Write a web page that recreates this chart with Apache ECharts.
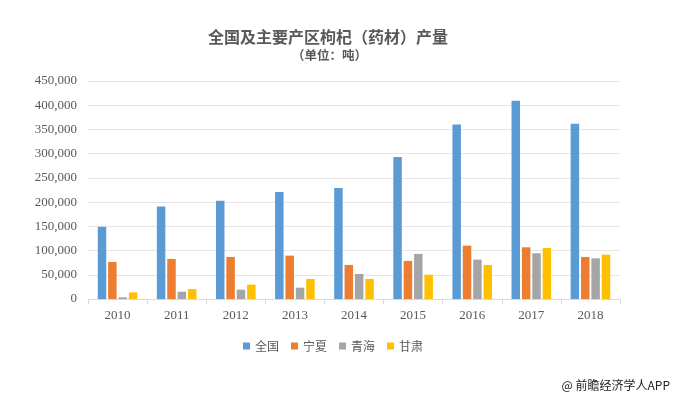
<!DOCTYPE html>
<html><head><meta charset="utf-8">
<script src="https://cdn.jsdelivr.net/npm/echarts@6/dist/echarts.min.js"></script>
<style>html,body{margin:0;padding:0;background:#fff}#c{width:680px;height:395px}</style>
</head><body><div id="c"></div>
<script>
const years = ['2010','2011','2012','2013','2014','2015','2016','2017','2018'];
const national = [149000,191000,203000,221000,229000,293000,360000,409000,362000];
const ningxia = [76500,82700,86800,89500,70300,78600,110200,106700,86800];
const qinghai = [3300,15000,19200,23400,51700,93000,81300,94300,84000];
const gansu = [13600,20700,29600,41400,41400,50200,70300,105300,91600];
const seriesNames = ['全国','宁夏','青海','甘肃'];
const colors = ['#5B9BD5','#ED7D31','#A5A5A5','#FFC000'];
const yTicks = [0,50000,100000,150000,200000,250000,300000,350000,400000,450000];

const chart = echarts.init(document.getElementById('c'));
const dataSets = [national, ningxia, qinghai, gansu];
chart.setOption({
  animation:false,
  color: colors,
  title:[
    {text:'全国及主要产区枸杞（药材）产量', left:208, top:29, padding:0, textStyle:{fontFamily:'Noto Sans CJK SC', fontSize:16, fontWeight:'bold', color:'#595959'}},
    {text:'（单位：吨）', left:292, top:49, padding:0, textStyle:{fontFamily:'Noto Sans CJK SC', fontSize:12.5, fontWeight:'bold', color:'#595959'}},
    {text:'@ 前瞻经济学人APP', right:5, top:374, textStyle:{fontFamily:'Noto Sans CJK SC', fontSize:12, fontWeight:'normal', color:'#222'}}
  ],
  legend:{data:seriesNames, bottom:38, left:238, itemWidth:7, itemHeight:7, itemGap:12, icon:'rect',
    textStyle:{fontFamily:'Noto Sans CJK SC', fontSize:12, color:'#595959'}},
  grid:{left:88, right:60, top:81, bottom:96},
  xAxis:{type:'category', data:years,
    axisLine:{lineStyle:{color:'#d9d9d9'}},
    axisTick:{show:true, length:5, lineStyle:{color:'#d9d9d9'}},
    axisLabel:{fontFamily:'Liberation Serif', fontSize:13, color:'#595959', margin:10}},
  yAxis:{type:'value', min:yTicks[0], max:yTicks[yTicks.length-1], interval:50000,
    axisLine:{show:false}, axisTick:{show:false},
    splitLine:{lineStyle:{color:'#e6e6e6'}},
    axisLabel:{fontFamily:'Liberation Serif', fontSize:13, color:'#595959', margin:11,
      formatter:v=>v.toLocaleString('en-US')}},
  series: seriesNames.map((n,i)=>({name:n, type:'bar', data:dataSets[i], barWidth:8.5, barGap:'22%', itemStyle:{color:colors[i]}}))
});
</script></body></html>
